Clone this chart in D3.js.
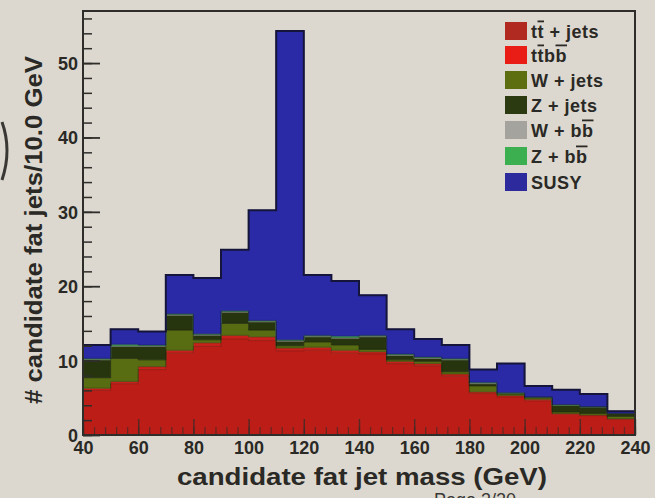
<!DOCTYPE html>
<html>
<head>
<meta charset="utf-8">
<script src="https://cdn.jsdelivr.net/npm/d3@7"></script>
<style>
  html, body { margin: 0; padding: 0; background: #dcd8cf; }
  svg { display: block; }
  text { font-family: "Liberation Sans", Arial, Helvetica, sans-serif; }
</style>
</head>
<body>
<svg id="chart" width="655" height="498"></svg>
<script>
// Bin edges of the fat-jet mass histogram (GeV), 10 GeV bins
const binEdges = [40, 50, 60, 70, 80, 90, 100, 110, 120, 130, 140, 150, 160, 170, 180, 190, 200, 210, 220, 230, 240];

// Per-bin contributions, stacked bottom to top in this order
const ttJets = [6.0, 6.9, 8.8, 11.0, 11.9, 12.9, 12.7, 11.3, 11.4, 11.0, 10.9, 9.6, 9.3, 7.9, 5.6, 5.1, 4.6, 2.8, 2.6, 2.1];
const ttbb   = [0.3, 0.3, 0.4, 0.4, 0.5, 0.5, 0.5, 0.4, 0.4, 0.4, 0.3, 0.3, 0.3, 0.3, 0.2, 0.2, 0.2, 0.1, 0.1, 0.1];
const wJets  = [1.4, 3.1, 0.9, 2.7, 0.4, 1.6, 0.9, 0.3, 0.7, 0.7, 0.3, 0.2, 0.3, 0.3, 0.8, 0.2, 0.2, 0.2, 0.2, 0.3];
const zJets  = [2.4, 1.6, 1.8, 2.0, 0.6, 1.5, 1.1, 0.6, 0.7, 0.9, 1.7, 0.6, 0.4, 1.6, 0.3, 0.1, 0.1, 0.9, 0.9, 0.4];
const wbb    = [0.1, 0.1, 0.1, 0.1, 0.1, 0.1, 0.1, 0.1, 0.1, 0.1, 0.1, 0.1, 0.1, 0.1, 0.1, 0.0, 0.0, 0.0, 0.0, 0.0];
const zbb    = [0.1, 0.2, 0.1, 0.1, 0.1, 0.1, 0.1, 0.1, 0.1, 0.2, 0.1, 0.1, 0.1, 0.1, 0.1, 0.1, 0.0, 0.1, 0.0, 0.0];
const susy   = [1.8, 2.0, 1.8, 5.2, 7.5, 8.2, 14.8, 41.5, 8.1, 7.4, 5.4, 3.3, 2.4, 1.8, 1.7, 3.9, 1.5, 2.0, 1.7, 0.3];

const seriesKeys   = ["ttJets", "ttbb", "wJets", "zJets", "wbb", "zbb", "susy"];
const seriesValues = [ttJets, ttbb, wJets, zJets, wbb, zbb, susy];
const stackColors  = ["#bd1d17", "#c8201a", "#586c12", "#27350f", "#a09e98", "#3aa850", "#2a2aa6"];
const legendColors = ["#b02a22", "#ea1c16", "#5c6e10", "#2c3a12", "#a5a39e", "#3cb050", "#2c2a9c"];

const xTicks = [40, 60, 80, 100, 120, 140, 160, 180, 200, 220, 240];
const yTicks = [0, 10, 20, 30, 40, 50];
const xTitle = "candidate fat jet mass (GeV)";
const yTitle = "# candidate fat jets/10.0 GeV";

const svg = d3.select("#chart");
const W = 655, H = 498;
const plot = { left: 83, right: 635, top: 11, bottom: 435 };

svg.append("rect").attr("width", W).attr("height", H).attr("fill", "#dcd8cf");

const x = d3.scaleLinear().domain([40, 240]).range([plot.left, plot.right]);
const y = d3.scaleLinear().domain([0, 57]).range([plot.bottom, plot.top]);

// Rows for d3.stack
const rows = binEdges.slice(0, -1).map((lo, i) => {
  const r = { lo: lo, hi: binEdges[i + 1] };
  seriesKeys.forEach((k, j) => { r[k] = seriesValues[j][i]; });
  return r;
});
const stacked = d3.stack().keys(seriesKeys)(rows);

// Expand each bin into two points so the area forms flat steps
function stepPoints(layer) {
  const pts = [];
  layer.forEach(d => {
    pts.push({ xv: d.data.lo, y0: d[0], y1: d[1] });
    pts.push({ xv: d.data.hi, y0: d[0], y1: d[1] });
  });
  return pts;
}
const area = d3.area().x(p => x(p.xv)).y0(p => y(p.y0)).y1(p => y(p.y1));
const topLine = d3.line().x(p => x(p.xv)).y(p => y(p.y1));

const gHist = svg.append("g");
stacked.forEach((layer, i) => {
  gHist.append("path")
    .attr("d", area(stepPoints(layer)))
    .attr("fill", stackColors[i])
    .attr("stroke", stackColors[i])
    .attr("stroke-width", 0.6);
});
// Outlines of the layer tops
stacked.forEach((layer, i) => {
  if (i === stacked.length - 1) return;
  gHist.append("path")
    .attr("d", topLine(stepPoints(layer)))
    .attr("fill", "none")
    .attr("stroke", "#1b1a14")
    .attr("stroke-opacity", 0.25)
    .attr("stroke-width", 1);
});
// Outline of the full stack
const topLayer = stacked[stacked.length - 1];
gHist.append("path")
  .attr("d", topLine(stepPoints(topLayer)))
  .attr("fill", "none")
  .attr("stroke", "#15143a")
  .attr("stroke-width", 2);

// Axes with inward ticks
const axisColor = "#2e2d2a";
const tickFont = "bold 18px 'Liberation Sans', Arial, sans-serif";

const yMinor = d3.range(0, 57, 2);
svg.append("g")
  .attr("transform", `translate(${plot.left},0)`)
  .call(d3.axisLeft(y).tickValues(yMinor).tickSize(-9).tickFormat(""))
  .call(g => g.select(".domain").remove())
  .call(g => g.selectAll("line").attr("stroke", axisColor).attr("stroke-width", 1.5));

svg.append("g")
  .attr("transform", `translate(${plot.left},0)`)
  .call(d3.axisLeft(y).tickValues(yTicks).tickSize(-17).tickPadding(5).tickFormat(d3.format("d")))
  .call(g => g.select(".domain").remove())
  .call(g => g.selectAll("line").attr("stroke", axisColor).attr("stroke-width", 1.8))
  .call(g => g.selectAll("text").attr("fill", "#2a2925").style("font", tickFont).attr("dy", "0.36em"));

const xMinor = d3.range(40, 241, 4);
svg.append("g")
  .attr("transform", `translate(0,${plot.bottom})`)
  .call(d3.axisBottom(x).tickValues(xMinor).tickSize(-8).tickFormat(""))
  .call(g => g.select(".domain").remove())
  .call(g => g.selectAll("line").attr("stroke", axisColor).attr("stroke-opacity", 0.6).attr("stroke-width", 1.3));

svg.append("g")
  .attr("transform", `translate(0,${plot.bottom})`)
  .call(d3.axisBottom(x).tickValues(xTicks).tickSize(-16).tickPadding(6).tickFormat(d3.format("d")))
  .call(g => g.select(".domain").remove())
  .call(g => g.selectAll("line").attr("stroke", axisColor).attr("stroke-opacity", 0.7).attr("stroke-width", 1.5))
  .call(g => g.selectAll("text").attr("fill", "#2a2925").style("font", tickFont));

// Frame
svg.append("rect")
  .attr("x", plot.left).attr("y", plot.top)
  .attr("width", plot.right - plot.left).attr("height", plot.bottom - plot.top)
  .attr("fill", "none").attr("stroke", axisColor).attr("stroke-width", 2);

// Axis titles
svg.append("text")
  .attr("x", 362).attr("y", 485)
  .attr("text-anchor", "middle")
  .attr("textLength", 370)
  .attr("lengthAdjust", "spacingAndGlyphs")
  .attr("fill", "#2a2925")
  .style("font", "bold 24px 'Liberation Sans', Arial, sans-serif")
  .text(xTitle);

svg.append("text")
  .attr("transform", "translate(42,230) rotate(-90)")
  .attr("text-anchor", "middle")
  .attr("textLength", 348)
  .attr("lengthAdjust", "spacingAndGlyphs")
  .attr("fill", "#2a2925")
  .style("font", "bold 23px 'Liberation Sans', Arial, sans-serif")
  .text(yTitle);

// Legend
const legendRows = [
  [{ t: "t" }, { t: "t", o: true }, { t: " + jets" }],
  [{ t: "t" }, { t: "t", o: true }, { t: "b" }, { t: "b", o: true }],
  [{ t: "W + jets" }],
  [{ t: "Z + jets" }],
  [{ t: "W + b" }, { t: "b", o: true }],
  [{ t: "Z + b" }, { t: "b", o: true }],
  [{ t: "SUSY" }]
];
const legendY = [31, 55, 80, 105, 130, 156, 182];
const gLeg = svg.append("g");
legendRows.forEach((parts, i) => {
  gLeg.append("rect")
    .attr("x", 505).attr("y", legendY[i] - 9)
    .attr("width", 22).attr("height", 18)
    .attr("fill", legendColors[i]);
  const t = gLeg.append("text")
    .attr("x", 531).attr("y", legendY[i] + 6.5)
    .attr("fill", "#2a2925")
    .style("font", "bold 18px 'Liberation Sans', Arial, sans-serif")
    .style("letter-spacing", "0.5px");
  parts.forEach(p => {
    const s = t.append("tspan").text(p.t);
    if (p.o) s.style("text-decoration", "overline");
  });
});

// Slide footer and edge of a neighbouring element
svg.append("text")
  .attr("x", 434).attr("y", 506)
  .attr("fill", "#3a3935")
  .style("font", "18px 'Liberation Sans', Arial, sans-serif")
  .text("Page 3/20");

svg.append("path")
  .attr("d", "M2,122 Q12,150 2,180")
  .attr("fill", "none")
  .attr("stroke", "#3a3834")
  .attr("stroke-width", 3);
</script>
</body>
</html>
